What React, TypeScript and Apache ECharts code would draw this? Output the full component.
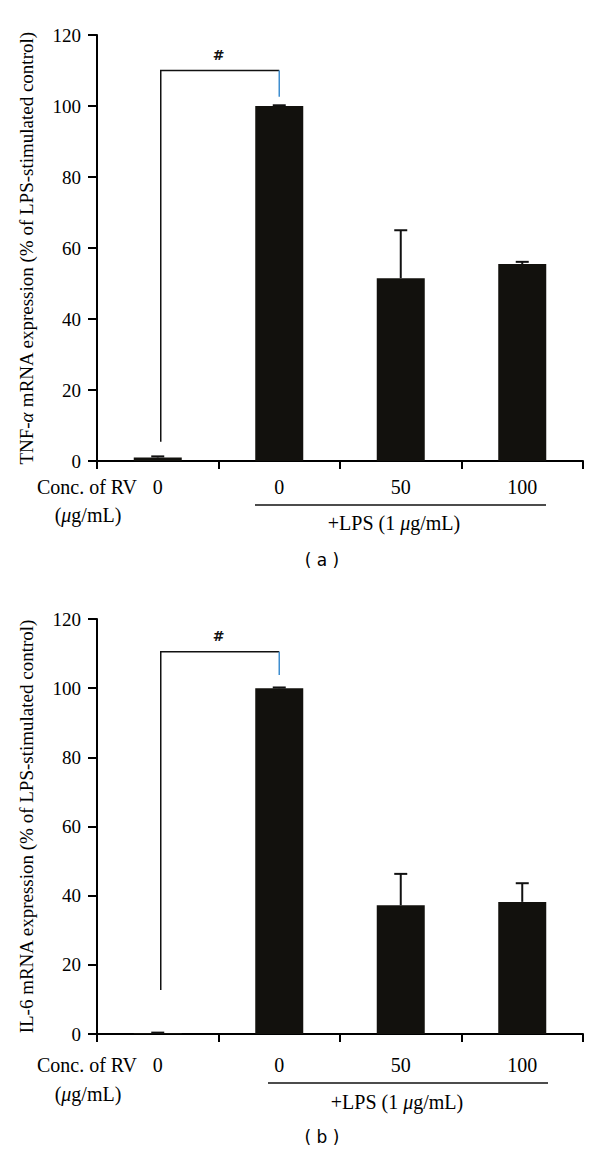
import React, { useEffect, useRef } from 'react';
import * as echarts from 'echarts';

const categories = ['0', '0', '50', '100'];
const tnfValues = [1, 100, 51.5, 55.5];
const tnfErrors = [0.3, 0.2, 13.5, 0.6];
const il6Values = [0.3, 100, 37.2, 38.2];
const il6Errors = [0.1, 0.2, 9.1, 5.4];
// bracket: [leftCategory, rightCategory, top, leftBottom, rightBottom]
const tnfBracket = [0, 1, 110, 5.4, 102.6];
const il6Bracket = [0, 1, 110.5, 12.7, 103.8];
const significanceLabel = '#';
const yMin = 0;
const yMax = 120;
const yInterval = 20;
const yTitleTop = 'TNF-{i|α} mRNA expression (% of LPS-stimulated control)';
const yTitleBottom = 'IL-6 mRNA expression (% of LPS-stimulated control)';
const concLabel = 'Conc. of RV';
const unitLabel = '({i|μ}g/mL)';
const lpsLabel = '+LPS (1 {i|μ}g/mL)';
const panelLabels = ['( a )', '( b )'];

const SERIF = '"Liberation Serif", "Times New Roman", serif';
const BAR = '#12110d';
const BLUE = '#3f8ecf';
const LABEL_SIZE = 20;

function errorRender(params: any, api: any) {
  const x = api.value(0);
  const v = api.value(1);
  const e = api.value(2);
  const base = api.coord([x, v]);
  const top = api.coord([x, v + e]);
  const hw = 6.5;
  return {
    type: 'group',
    children: [
      { type: 'line', shape: { x1: base[0], y1: base[1], x2: top[0], y2: top[1] }, style: { stroke: '#111', lineWidth: 2 } },
      { type: 'line', shape: { x1: top[0] - hw, y1: top[1], x2: top[0] + hw, y2: top[1] }, style: { stroke: '#111', lineWidth: 2 } },
    ],
  };
}

function bracketRender(params: any, api: any) {
  const x0 = api.value(0);
  const x1 = api.value(1);
  const top = api.value(2);
  const lb = api.value(3);
  const rb = api.value(4);
  const pLB = api.coord([x0, lb]);
  const pLT = api.coord([x0, top]);
  const pRT = api.coord([x1, top]);
  const pRB = api.coord([x1, rb]);
  return {
    type: 'group',
    children: [
      { type: 'polyline', shape: { points: [[pLB[0] + 3, pLB[1]], [pLT[0] + 3, pLT[1]], pRT] }, style: { stroke: '#111', lineWidth: 1.5, fill: 'none' } },
      { type: 'line', shape: { x1: pRT[0], y1: pRT[1], x2: pRB[0], y2: pRB[1] }, style: { stroke: BLUE, lineWidth: 1.5 } },
      {
        type: 'text',
        x: (pLT[0] + pRT[0]) / 2,
        y: pLT[1] - 16,
        style: { text: significanceLabel, fontSize: 14, fontWeight: 'bold', fontFamily: 'DejaVu Sans', fill: '#111', align: 'center', verticalAlign: 'middle' },
      },
    ],
  };
}

function xAxisDef(gridIndex: number, margin: number) {
  return {
    type: 'category',
    gridIndex,
    data: categories,
    boundaryGap: true,
    axisLine: { show: true, lineStyle: { color: '#000', width: 2 } },
    axisTick: { show: true, length: 8, lineStyle: { color: '#000', width: 2 } },
    axisLabel: { color: '#000', fontFamily: SERIF, fontSize: LABEL_SIZE, margin },
    splitLine: { show: false },
  };
}

function yAxisDef(gridIndex: number, name: string) {
  return {
    type: 'value',
    gridIndex,
    min: yMin,
    max: yMax,
    interval: yInterval,
    name,
    nameLocation: 'middle',
    nameGap: 61,
    nameRotate: 90,
    nameTextStyle: {
      color: '#000',
      fontFamily: SERIF,
      fontSize: 19,
      rich: { i: { fontStyle: 'italic', fontFamily: SERIF, fontSize: 19, color: '#000' } },
    },
    axisLine: { show: true, lineStyle: { color: '#000', width: 2 } },
    axisTick: { show: true, length: 9, lineStyle: { color: '#000', width: 2 } },
    axisLabel: { color: '#000', fontFamily: SERIF, fontSize: 19, margin: 16 },
    splitLine: { show: false },
  };
}

function seriesFor(idx: number, values: number[], errors: number[], bracket: number[]) {
  return [
    {
      type: 'bar',
      xAxisIndex: idx,
      yAxisIndex: idx,
      data: values,
      barWidth: 48,
      itemStyle: { color: BAR },
      z: 2,
    },
    {
      type: 'custom',
      xAxisIndex: idx,
      yAxisIndex: idx,
      renderItem: errorRender,
      data: values.map((v, i) => [i, v, errors[i]]),
      encode: { x: 0, y: 1 },
      z: 3,
    },
    {
      type: 'custom',
      xAxisIndex: idx,
      yAxisIndex: idx,
      renderItem: bracketRender,
      data: [bracket],
      encode: { x: [0, 1], y: [2, 3, 4] },
      z: 4,
    },
  ];
}

function annotations(labelY: number, lineY: number, unitY: number, lpsY: number, panelY: number, lineX0: number, lineX1: number, lpsX: number, panel: string) {
  const rich = { i: { fontStyle: 'italic', fontFamily: SERIF, fontSize: LABEL_SIZE, fill: '#000' } };
  return [
    { type: 'text', x: 137, y: labelY, style: { text: concLabel, fontFamily: SERIF, fontSize: LABEL_SIZE, fill: '#000', align: 'right', verticalAlign: 'middle' } },
    { type: 'text', x: 88, y: unitY, style: { text: unitLabel, rich, fontFamily: SERIF, fontSize: LABEL_SIZE, fill: '#000', align: 'center', verticalAlign: 'middle' } },
    { type: 'line', shape: { x1: lineX0, y1: lineY, x2: lineX1, y2: lineY }, style: { stroke: '#111', lineWidth: 1.5 } },
    { type: 'text', x: lpsX, y: lpsY, style: { text: lpsLabel, rich, fontFamily: SERIF, fontSize: LABEL_SIZE, fill: '#000', align: 'center', verticalAlign: 'middle' } },
    { type: 'text', x: 322, y: panelY, style: { text: panel, fontFamily: 'DejaVu Sans', fontSize: 17, fill: '#000', align: 'center', verticalAlign: 'middle' } },
  ];
}

export default function App() {
  const ref = useRef<HTMLDivElement>(null);
  useEffect(() => {
    if (!ref.current) return;
    const chart = echarts.init(ref.current, null, { renderer: 'svg' });
    chart.setOption({
      animation: false,
      backgroundColor: '#fff',
      grid: [
        { left: 97, top: 35, width: 486, height: 426 },
        { left: 97, top: 619, width: 486, height: 415 },
      ],
      xAxis: [xAxisDef(0, 16), xAxisDef(1, 21)],
      yAxis: [yAxisDef(0, yTitleTop), yAxisDef(1, yTitleBottom)],
      series: [
        ...seriesFor(0, tnfValues, tnfErrors, tnfBracket),
        ...seriesFor(1, il6Values, il6Errors, il6Bracket),
      ],
      graphic: [
        ...annotations(487, 505, 515, 523, 560, 255, 546, 394, panelLabels[0]),
        ...annotations(1065, 1083, 1094, 1102, 1137, 268, 548, 397, panelLabels[1]),
      ],
    });
    return () => chart.dispose();
  }, []);
  return <div ref={ref} style={{ position: 'absolute', left: 0, top: 0, width: 600, height: 1168 }} />;
}
